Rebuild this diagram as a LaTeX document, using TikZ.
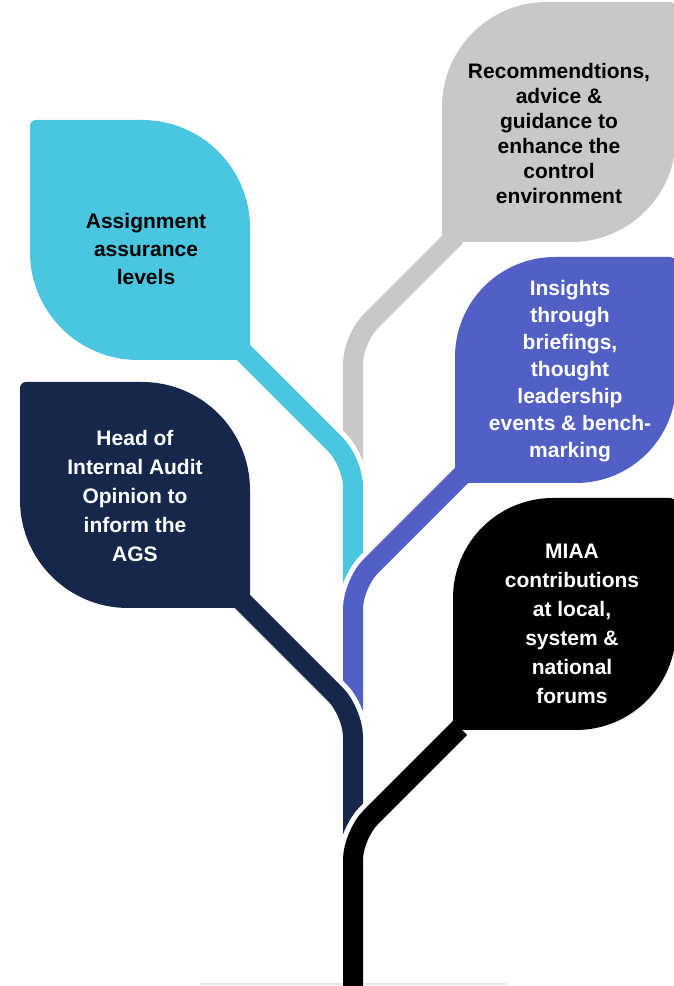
\documentclass[tikz,border=0pt]{standalone}
\usepackage{fontspec}
\setmainfont{Liberation Sans}
\definecolor{leafcyan}{RGB}{74,198,224}
\definecolor{leafnavy}{RGB}{21,40,76}
\definecolor{leafgray}{RGB}{200,200,200}
\definecolor{leafblue}{RGB}{82,96,198}
\definecolor{leafblack}{RGB}{0,0,0}
\definecolor{baseline}{RGB}{228,228,228}
% left leaf: colour, L, R, top Y, bottom Y, radius
\newcommand\myleftleaf[6]{%
  \fill[#1] (#2,{#5+#6}) -- (#2,{#4-6}) arc[start angle=180,end angle=90,radius=6]
    -- ({#3-#6},#4) arc[start angle=90,end angle=0,radius=#6]
    -- (#3,#5) -- ({#2+#6},#5) arc[start angle=270,end angle=180,radius=#6] -- cycle;}
% right leaf: colour, L, R, top Y, bottom Y, radius
\newcommand\myrightleaf[6]{%
  \fill[#1] (#2,#5) -- (#2,{#4-#6}) arc[start angle=180,end angle=90,radius=#6]
    -- ({#3-6},#4) arc[start angle=90,end angle=0,radius=6]
    -- (#3,{#5+#6}) arc[start angle=0,end angle=-90,radius=#6] -- cycle;}
\tikzset{
  stemborder/.style={draw=white,line width=30pt,rounded corners=25pt},
  stemline/.style={draw=#1,line width=20pt,rounded corners=25pt},
  leaftext/.style={align=center,font=\bfseries\fontsize{21}{#1}\selectfont,inner sep=0pt},
}
\begin{document}
\begin{tikzpicture}[x=1pt,y=1pt]
\useasboundingbox (0,0) rectangle (674,986);
\clip (0,0) rectangle (674,986);
\fill[white] (0,0) rectangle (674,986);

% gray branch
\coordinate (g1) at (456,750);
\coordinate (g2) at (353,647);
\coordinate (g3) at (353,516);
\path[stemborder] (g1) -- (g2) -- (g3);
\path[stemline=leafgray] (g1) -- (g2) -- (g3);
\myrightleaf{leafgray}{442}{676}{984}{744}{105}
\node[leaftext=25,text=black] (grayt) at (559,852) {Recommendtions,\\advice \&\\guidance to\\enhance the\\control\\environment};

% cyan branch
\coordinate (c1) at (235,642);
\coordinate (c2) at (353,524);
\coordinate (c3) at (353,386);
\path[stemborder] (c1) -- (c2) -- (c3);
\path[stemline=leafcyan] (c1) -- (c2) -- (c3);
\myleftleaf{leafcyan}{30}{250}{866}{626}{108}
\node[leaftext=28,text=black] (cyant) at (146,737) {Assignment\\assurance\\levels};

% blue branch
\coordinate (b1) at (462,511);
\coordinate (b2) at (353,402);
\coordinate (b3) at (353,271);
\path[stemborder] (b1) -- (b2) -- (b3);
\path[stemline=leafblue] (b1) -- (b2) -- (b3);
\myrightleaf{leafblue}{455}{676}{729}{503}{100}
\node[leaftext=27,text=white] (bluet) at (570,615) {Insights\\through\\briefings,\\thought\\leadership\\events \& bench-\\marking};

% navy branch
\coordinate (n1) at (238,389);
\coordinate (n2) at (353,274);
\coordinate (n3) at (353,146);
\path[stemborder] (n1) -- (n2) -- (n3);
\path[stemline=leafnavy] (n1) -- (n2) -- (n3);
\myleftleaf{leafnavy}{20}{250}{604}{378}{108}
\node[leaftext=29,text=white] (navyt) at (135,490) {Head of\\Internal Audit\\Opinion to\\inform the\\AGS};

% black branch
\coordinate (k1) at (460,258);
\coordinate (k2) at (353,151);
\coordinate (k3) at (353,-10);
\path[stemborder] (k1) -- (k2) -- (k3);
% faint base line
\coordinate (base1) at (200,2);
\coordinate (base2) at (507,2);
\draw[color=baseline,line width=2pt] (base1) -- (base2);
\path[stemline=leafblack] (k1) -- (k2) -- (k3);
\myrightleaf{leafblack}{453}{676}{488}{256}{100}
\node[leaftext=29,text=white] (blackt) at (572,362) {MIAA\\contributions\\at local,\\system \&\\national\\forums};
\end{tikzpicture}
\end{document}
